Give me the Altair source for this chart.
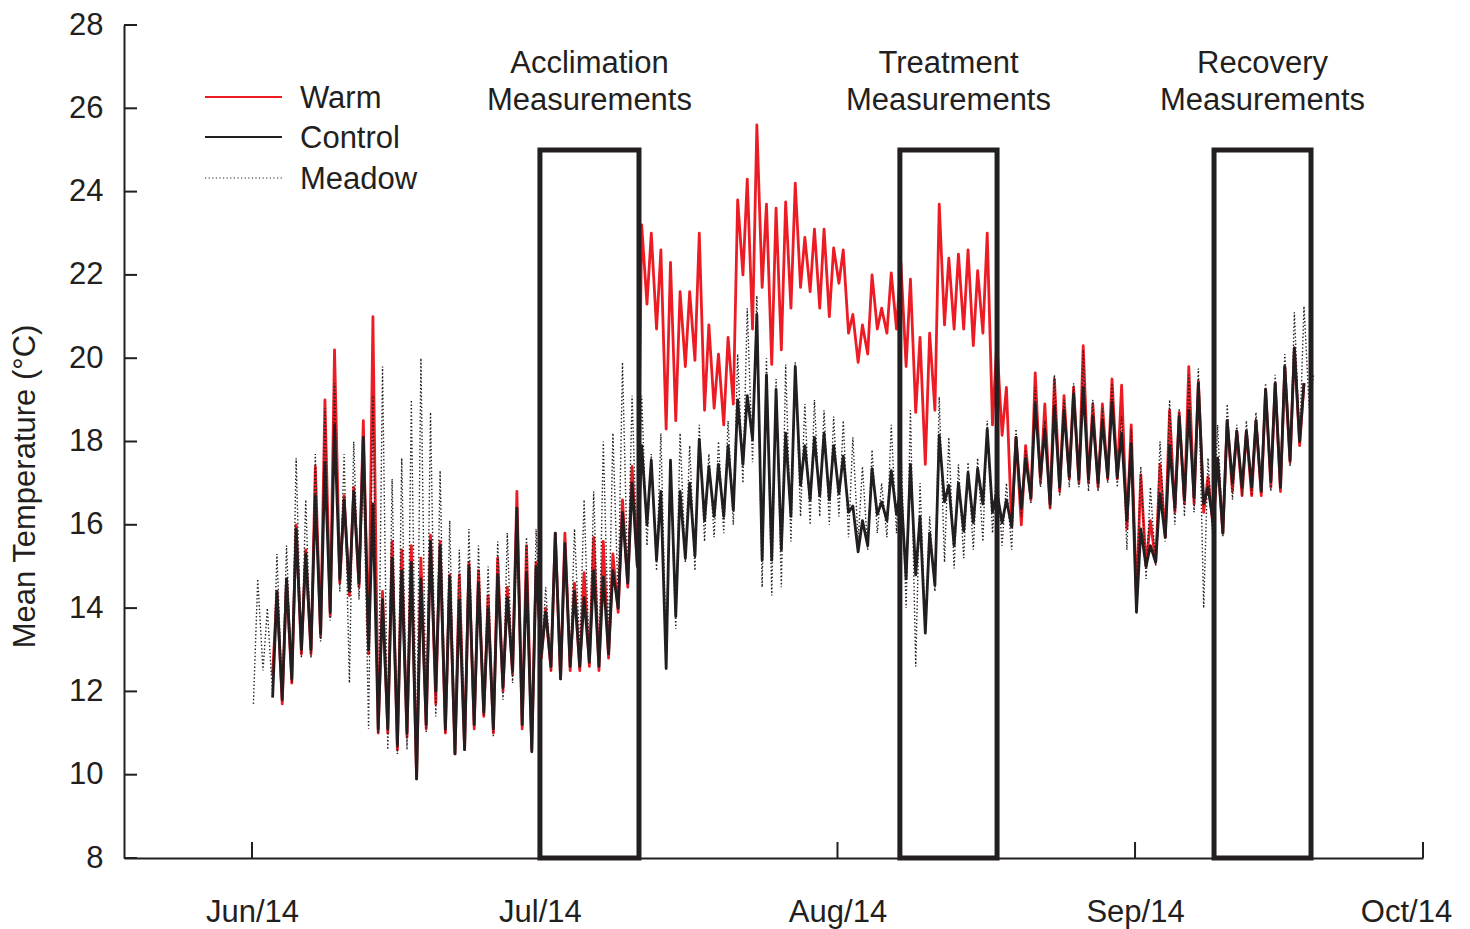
import altair as alt
import pandas as pd

START = pd.Timestamp("2014-06-01")
MIN_OFFSET, MAX_OFFSET = 0.15, 0.6   # time of day of daily min / max (fraction of day)

RED = "#ed1c24"
BLACK = "#231f20"
FONT = "Liberation Sans"
FS = 31

# ---- daily minima / maxima (day index 0 = 1 Jun 2014) ----
control_first_day = 2
control_min = [
    11.85, 11.8, 12.3, 13.0, 13.0, 13.4, 13.9, 14.7, 14.4, 14.6,
    13.0, 11.1, 11.1, 10.7, 11.0, 9.9, 11.2, 12.0, 11.1, 10.5,
    10.6, 11.2, 11.5, 11.1, 12.1, 12.5, 11.2, 10.55, 12.9, 12.6,
    12.3, 12.6, 12.6, 12.7, 12.6, 12.9, 14.0, 14.6, 15.0, 16.0,
    15.15, 12.55, 13.8, 15.2, 15.25, 16.1, 16.2, 16.2, 16.35, 17.45,
    18.05, 15.15, 15.15, 15.4, 16.2, 16.95, 16.6, 16.7, 16.6, 16.75,
    16.3, 15.35, 15.5, 16.25, 16.1, 16.25, 14.7, 14.8, 13.4, 14.55,
    16.55, 15.5, 15.85, 16.05, 16.5, 16.3, 16.05, 15.95, 16.4, 16.65,
    17.15, 16.5, 16.9, 17.15, 17.1, 17.1, 17.0, 17.15, 17.15, 16.1,
    13.9, 15.0, 15.1, 15.7, 16.4, 16.6, 16.65, 16.5, 16.05, 15.8,
    17.0, 16.9, 16.9, 16.8, 17.05, 16.9, 17.55, 18.0,
]
control_max = [
    14.4, 14.7, 15.9, 15.3, 16.7, 17.5, 18.4, 16.6, 16.8, 18.1,
    16.5, 14.2, 15.2, 14.9, 15.1, 14.7, 15.6, 15.5, 14.75, 14.2,
    15.0, 14.6, 14.0, 14.8, 14.25, 16.4, 14.85, 15.0, 13.9, 15.8,
    15.55, 14.4, 14.25, 14.9, 14.75, 14.9, 16.3, 17.0, 17.9, 17.55,
    16.8, 17.55, 16.8, 17.0, 18.05, 17.4, 17.45, 17.9, 19.0, 19.1,
    21.05, 19.6, 19.25, 18.2, 19.8, 17.9, 18.1, 18.2, 17.9, 17.65,
    16.45, 16.1, 17.35, 16.55, 17.3, 16.9, 17.45, 16.2, 15.8, 18.15,
    16.95, 17.0, 17.25, 17.35, 18.3, 16.8, 16.6, 18.1, 17.6, 18.9,
    18.3, 18.85, 18.75, 19.15, 19.3, 18.6, 18.5, 18.95, 18.2, 17.95,
    15.9, 15.5, 16.75, 17.9, 18.6, 18.75, 19.4, 16.9, 17.6, 18.5,
    18.25, 18.25, 18.5, 19.25, 19.4, 19.8, 20.25, 19.4,
]

warm_first_day = 2
warm_min = [
    12.4, 11.7, 12.2, 12.9, 12.9, 13.3, 13.8, 14.6, 14.3, 14.5,
    12.9, 11.0, 11.0, 10.6, 10.9, 9.9, 11.1, 11.7, 11.0, 10.5,
    10.6, 11.1, 11.4, 11.0, 12.0, 12.4, 11.1, 10.6, 12.8, 12.5,
    12.3, 12.5, 12.5, 12.6, 12.5, 12.8, 13.9, 14.5, 15.0, 21.3,
    20.7, 18.3, 18.5, 19.8, 19.95, 18.75, 18.8, 18.4, 18.9, 22.0,
    20.7, 21.7, 19.85, 20.2, 21.2, 21.7, 21.6, 21.2, 21.0, 21.8,
    20.6, 19.9, 20.1, 20.7, 20.6, 20.7, 19.8, 18.7, 17.45, 18.75,
    20.8, 20.7, 20.7, 20.3, 20.6, 18.4, 18.15, 15.95, 16.0, 16.6,
    17.0, 16.4, 16.8, 17.1, 17.0, 17.0, 16.9, 17.1, 17.1, 15.9,
    14.2, 15.0, 15.1, 15.7, 16.3, 16.5, 16.5, 16.3, 15.9, 15.8,
    16.8, 16.7, 16.7, 16.7, 16.9, 16.8, 17.5, 17.9,
]
warm_max = [
    14.4, 14.7, 16.0, 15.4, 17.4, 19.0, 20.2, 16.7, 16.9, 18.5,
    21.0, 14.4, 15.6, 15.4, 15.5, 15.2, 15.75, 15.6, 14.8, 14.8,
    15.1, 14.9, 14.3, 15.2, 14.5, 16.8, 15.5, 15.1, 14.0, 15.8,
    15.8, 14.6, 14.85, 15.7, 15.6, 15.3, 16.6, 17.4, 23.2, 23.0,
    22.6, 22.3, 21.6, 21.6, 23.0, 20.8, 20.1, 20.5, 23.8, 24.3,
    25.6, 23.7, 23.6, 23.75, 24.2, 22.9, 23.1, 23.1, 22.65, 22.6,
    21.05, 20.8, 22.0, 21.2, 22.05, 22.3, 21.9, 20.5, 20.6, 23.7,
    22.4, 22.5, 22.6, 22.1, 23.0, 20.4, 19.3, 18.1, 17.9, 19.65,
    18.9, 19.5, 19.1, 19.3, 20.3, 18.9, 18.9, 19.5, 19.35, 18.4,
    17.2, 16.1, 17.45, 18.75, 18.7, 19.8, 19.45, 17.15, 17.6, 18.5,
    18.25, 18.25, 18.5, 19.25, 19.4, 19.8, 20.25, 19.4,
]

meadow_first_day = 0
meadow_min = [
    11.7, 12.5, 11.9, 11.9, 12.2, 12.8, 12.8, 13.2, 13.7, 14.4,
    12.2, 14.2, 11.1, 11.0, 10.6, 10.5, 10.6, 10.3, 11.0, 11.4,
    11.0, 10.7, 10.9, 11.3, 11.4, 10.9, 11.8, 12.2, 11.3, 10.8,
    12.8, 12.5, 12.4, 12.6, 13.0, 12.7, 12.7, 13.2, 14.2, 14.6,
    15.0, 15.5, 14.9, 13.0, 13.5, 15.1, 14.9, 15.6, 15.7, 15.8,
    16.0, 17.0, 17.5, 14.5, 14.3, 14.5, 15.6, 16.2, 16.0, 16.2,
    16.0, 16.2, 15.7, 15.6, 15.4, 15.8, 15.7, 15.8, 14.0, 12.6,
    13.5, 14.4, 15.1, 14.95, 15.2, 15.4, 15.6, 15.8, 15.5, 15.4,
    16.2, 16.5, 16.9, 16.4, 16.7, 16.9, 16.9, 16.8, 16.8, 17.0,
    16.9, 15.4, 14.4, 14.7, 15.0, 15.6, 16.0, 16.2, 16.3, 14.0,
    15.5, 15.7, 16.6, 16.7, 16.7, 16.9, 16.8, 17.0, 17.4, 18.0,
    18.8,
]
meadow_max = [
    14.7, 14.0, 15.3, 15.5, 17.6, 16.6, 17.7, 18.8, 19.4, 17.7,
    18.0, 17.5, 19.1, 19.8, 17.1, 17.6, 19.0, 20.0, 18.7, 17.3,
    16.1, 15.4, 15.9, 15.5, 15.0, 15.6, 15.8, 15.8, 15.7, 15.9,
    14.5, 15.4, 15.6, 15.9, 16.6, 16.8, 18.0, 18.2, 19.9, 19.1,
    19.1, 17.7, 18.2, 17.4, 18.2, 17.9, 18.4, 17.7, 18.0, 18.5,
    20.1, 21.2, 21.5, 20.0, 19.5, 19.85, 19.9, 18.9, 19.0, 18.75,
    18.6, 18.5, 18.1, 17.4, 17.8, 17.0, 18.4, 18.0, 18.75, 17.0,
    16.2, 19.07, 18.1, 17.45, 17.5, 17.6, 18.5, 17.4, 17.0, 18.3,
    17.8, 19.3, 18.5, 19.6, 19.0, 19.4, 20.2, 19.0, 18.8, 19.4,
    18.6, 18.3, 17.4, 16.9, 18.0, 19.0, 18.8, 19.6, 19.75, 17.6,
    18.4, 18.9, 18.4, 18.5, 18.7, 19.4, 19.6, 20.1, 21.1, 21.25,
    19.6,
]

# ---- axes, boxes, labels ----
month_ticks = ["2014-06-01", "2014-07-01", "2014-08-01", "2014-09-01", "2014-10-01"]
y_ticks = [8, 10, 12, 14, 16, 18, 20, 22, 24, 26, 28]
box_labels = ["Acclimation\nMeasurements", "Treatment\nMeasurements", "Recovery\nMeasurements"]
box_start = ["2014-07-01 00:00", "2014-08-07 12:00", "2014-09-09 05:30"]
box_end = ["2014-07-11 07:40", "2014-08-17 15:00", "2014-09-19 08:00"]
box_bottom = 8
box_top = 25
legend_names = ["Warm", "Control", "Meadow"]


def series(first, mins, maxs):
    rows = []
    for i, (lo, hi) in enumerate(zip(mins, maxs)):
        d = first + i
        rows.append({"t": START + pd.Timedelta(days=d + MIN_OFFSET), "v": lo})
        rows.append({"t": START + pd.Timedelta(days=d + MAX_OFFSET), "v": hi})
    return pd.DataFrame(rows)


control_df = series(control_first_day, control_min, control_max)
warm_df = series(warm_first_day, warm_min, warm_max)
meadow_df = series(meadow_first_day, meadow_min, meadow_max)

x_domain = [alt.DateTime(year=2014, month=5, date=18, hours=16),
            alt.DateTime(year=2014, month=10, date=1)]
xscale = alt.Scale(domain=x_domain, nice=False)
yscale = alt.Scale(domain=[8, 28], nice=False, zero=False)

x_axis = alt.Axis(
    values=[alt.DateTime(year=2014, month=m, date=1) for m in [6, 7, 8, 9, 10]],
    format="%b/%y", ticks=False, tickSize=0, grid=False, title=None,
    labelFontSize=FS, labelPadding=39, labelColor=BLACK, labelFont=FONT,
    labelOffset={"condition": {"test": "month(datum.value) === 9", "value": -17}, "value": 0},
    domainColor=BLACK, domainWidth=2, labelFlush=False, labelOverlap=False,
)
y_axis = alt.Axis(
    values=y_ticks, ticks=False, tickSize=0, grid=False,
    title="Mean Temperature (°C)", titleFontSize=FS, titleFontWeight="normal",
    titleFont=FONT, titleColor=BLACK, titleX=-99, titleY=461, titleAngle=-90,
    titleAlign="center", titleBaseline="middle",
    labelFontSize=FS, labelPadding=21, labelColor=BLACK, labelFont=FONT,
    domainColor=BLACK, domainWidth=2,
)

warm_layer = alt.Chart(warm_df).mark_line(color=RED, strokeWidth=2.8, strokeJoin="round").encode(
    x=alt.X("t:T", scale=xscale, axis=x_axis),
    y=alt.Y("v:Q", scale=yscale, axis=y_axis),
)
control_layer = alt.Chart(control_df).mark_line(color=BLACK, strokeWidth=2.8, strokeJoin="round").encode(
    x=alt.X("t:T", scale=xscale),
    y=alt.Y("v:Q", scale=yscale),
)
meadow_layer = alt.Chart(meadow_df).mark_line(color=BLACK, strokeWidth=1.4, strokeDash=[1.4, 2.2]).encode(
    x=alt.X("t:T", scale=xscale),
    y=alt.Y("v:Q", scale=yscale),
)

tick_df = pd.DataFrame({"t": pd.to_datetime(month_ticks)})
xtick_layer = alt.Chart(tick_df).mark_rule(color=BLACK, strokeWidth=2).encode(
    x=alt.X("t:T", scale=xscale),
    y=alt.value(833), y2=alt.value(817),
)
ytick_df = pd.DataFrame({"v": y_ticks})
ytick_layer = alt.Chart(ytick_df).mark_rule(color=BLACK, strokeWidth=2).encode(
    y=alt.Y("v:Q", scale=yscale),
    x=alt.value(0), x2=alt.value(13),
)

box_df = pd.DataFrame({
    "label": box_labels,
    "start": pd.to_datetime(box_start),
    "end": pd.to_datetime(box_end),
    "lo": [box_bottom] * 3,
    "hi": [box_top] * 3,
})
box_df["mid"] = box_df["start"] + (box_df["end"] - box_df["start"]) / 2

box_layer = alt.Chart(box_df).mark_rect(
    fill="white", fillOpacity=0, stroke=BLACK, strokeWidth=5
).encode(
    x=alt.X("start:T", scale=xscale), x2="end:T",
    y=alt.Y("lo:Q", scale=yscale), y2="hi:Q",
)
label_layer = alt.Chart(box_df).mark_text(
    fontSize=FS, font=FONT, color=BLACK, align="center", baseline="middle",
    lineBreak="\n", lineHeight=37,
).encode(
    x=alt.X("mid:T", scale=xscale),
    y=alt.value(39),
    text="label:N",
)

# manual legend (top-left)
leg_y = [72, 112, 153]
leg_text_y = [74, 114, 155]
leg_warm = alt.Chart(pd.DataFrame({"n": [legend_names[0]]})).mark_rule(color=RED, strokeWidth=2).encode(
    x=alt.value(81), x2=alt.value(158), y=alt.value(leg_y[0]))
leg_control = alt.Chart(pd.DataFrame({"n": [legend_names[1]]})).mark_rule(color=BLACK, strokeWidth=2).encode(
    x=alt.value(81), x2=alt.value(158), y=alt.value(leg_y[1]))
leg_meadow = alt.Chart(pd.DataFrame({"n": [legend_names[2]]})).mark_rule(
    color=BLACK, strokeWidth=1.2, strokeDash=[1.2, 2.4]).encode(
    x=alt.value(81), x2=alt.value(158), y=alt.value(leg_y[2]))
leg_text = alt.Chart(pd.DataFrame({"n": legend_names, "yy": leg_text_y})).mark_text(
    fontSize=FS, font=FONT, color=BLACK, align="left", baseline="middle"
).encode(
    x=alt.value(176),
    y=alt.Y("yy:Q", scale=None),
    text="n:N",
)

chart = alt.layer(
    warm_layer, control_layer, meadow_layer,
    xtick_layer, ytick_layer, box_layer, label_layer,
    leg_warm, leg_control, leg_meadow, leg_text,
).properties(
    width=1299, height=833,
    padding={"left": 116, "top": 17, "right": 36, "bottom": 78},
    autosize=alt.AutoSizeParams(type="none"),
).configure(
    font=FONT
).configure_view(
    stroke=None
)

chart.save("out.html", embed_options={"renderer": "svg", "actions": False})
